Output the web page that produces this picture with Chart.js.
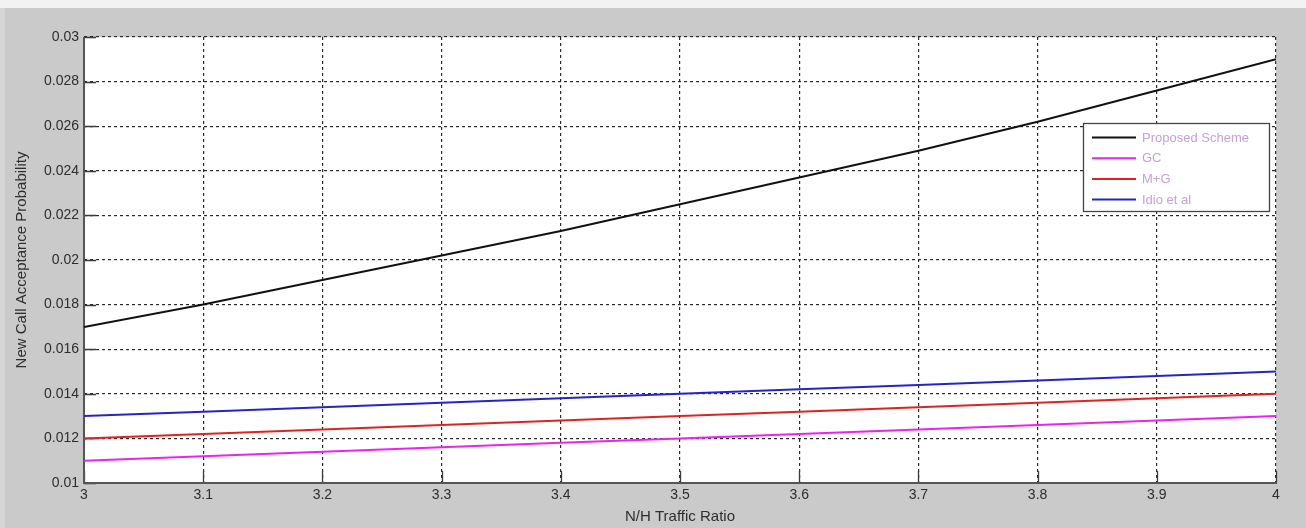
<!DOCTYPE html>
<html lang="en">
<head>
  <meta charset="UTF-8">
  <title>New Call Acceptance Probability</title>
  <script src="https://cdn.jsdelivr.net/npm/chart.js"></script>
  <style>
    html, body { margin: 0; padding: 0; background: #fff; }
    #wrap { width: 1306px; height: 528px; }
  </style>
</head>
<body>
<div id="wrap"><canvas id="chart" width="1306" height="528"></canvas></div>
<script>
  // values, x = 3.0 .. 4.0 in steps of 0.1
  const ratios = [3.0, 3.1, 3.2, 3.3, 3.4, 3.5, 3.6, 3.7, 3.8, 3.9, 4.0];
  const proposed = [0.0170, 0.0180, 0.0191, 0.0202, 0.0213, 0.0225, 0.0237, 0.0249, 0.0262, 0.0276, 0.0290];
  const gc = [0.0110, 0.0112, 0.0114, 0.0116, 0.0118, 0.0120, 0.0122, 0.0124, 0.0126, 0.0128, 0.0130];
  const mg = [0.0120, 0.0122, 0.0124, 0.0126, 0.0128, 0.0130, 0.0132, 0.0134, 0.0136, 0.0138, 0.0140];
  const idio = [0.0130, 0.0132, 0.0134, 0.0136, 0.0138, 0.0140, 0.0142, 0.0144, 0.0146, 0.0148, 0.0150];

  const xTickLabels = ['3', '3.1', '3.2', '3.3', '3.4', '3.5', '3.6', '3.7', '3.8', '3.9', '4'];
  const yTickLabels = ['0.01', '0.012', '0.014', '0.016', '0.018', '0.02', '0.022', '0.024', '0.026', '0.028', '0.03'];

  const seriesNames = ['Proposed Scheme', 'GC', 'M+G', 'Idio et al'];
  const seriesColors = ['#111111', '#ee22ee', '#e02222', '#2424cc'];
  const seriesValues = [proposed, gc, mg, idio];

  const FONT = 'Arial, "Liberation Sans", sans-serif';

  function toPoints(vals) {
    return ratios.map((x, i) => ({ x: x, y: vals[i] }));
  }

  // grey figure background + white axes area
  const backdrop = {
    id: 'backdrop',
    beforeDraw(chart) {
      const ctx = chart.ctx;
      const a = chart.chartArea;
      ctx.save();
      ctx.fillStyle = '#f2f2f2';
      ctx.fillRect(0, 0, chart.width, chart.height);
      ctx.fillStyle = '#d6d6d6';
      ctx.fillRect(0, 8, 5, chart.height - 8);
      ctx.fillStyle = '#cacaca';
      ctx.fillRect(5, 8, chart.width - 5, chart.height - 8);
      ctx.fillStyle = '#ffffff';
      ctx.fillRect(a.left, a.top, a.right - a.left, a.bottom - a.top);
      ctx.restore();
    }
  };

  // solid left/bottom axis lines and matlab style ticks pointing inwards
  const innerTicks = {
    id: 'innerTicks',
    beforeDatasetsDraw(chart) {
      const ctx = chart.ctx;
      const a = chart.chartArea;
      const xs = chart.scales.x, ys = chart.scales.y;
      const len = 12;
      ctx.save();
      ctx.setLineDash([]);
      ctx.strokeStyle = '#3a3a3a';
      ctx.lineWidth = 1.3;
      ctx.beginPath();
      xs.ticks.forEach(t => {
        const px = Math.round(xs.getPixelForValue(t.value)) + 0.5;
        ctx.moveTo(px, a.bottom);
        ctx.lineTo(px, a.bottom - len);
      });
      ys.ticks.forEach(t => {
        const py = Math.round(ys.getPixelForValue(t.value)) + 0.5;
        ctx.moveTo(a.left, py);
        ctx.lineTo(a.left + len, py);
      });
      ctx.stroke();
      ctx.strokeStyle = '#555';
      ctx.lineWidth = 2;
      ctx.beginPath();
      ctx.moveTo(a.left, a.top);
      ctx.lineTo(a.left, a.bottom);
      ctx.lineTo(a.right + 1, a.bottom);
      ctx.stroke();
      ctx.restore();
    }
  };

  // legend box inside the axes, upper right
  const boxLegend = {
    id: 'boxLegend',
    afterDraw(chart) {
      const ctx = chart.ctx;
      const left = 1083, top = 123, right = 1269, bottom = 211;
      const rowH = 20.7, firstRow = 137.5;
      ctx.save();
      ctx.setLineDash([]);
      ctx.fillStyle = '#ffffff';
      ctx.fillRect(left, top, right - left, bottom - top);
      ctx.strokeStyle = '#444';
      ctx.lineWidth = 1.3;
      ctx.strokeRect(left + 0.5, top + 0.5, right - left, bottom - top);
      ctx.font = '13px ' + FONT;
      ctx.textBaseline = 'middle';
      chart.data.datasets.forEach((ds, i) => {
        const y = firstRow + i * rowH;
        ctx.strokeStyle = ds.borderColor;
        ctx.lineWidth = 2;
        ctx.beginPath();
        ctx.moveTo(1092, y);
        ctx.lineTo(1136, y);
        ctx.stroke();
        ctx.fillStyle = '#c6a2dc';
        ctx.fillText(ds.label, 1142, y + 0.5);
      });
      ctx.restore();
    }
  };

  const datasets = seriesNames.map((name, i) => ({
    label: name,
    data: toPoints(seriesValues[i]),
    borderColor: seriesColors[i],
    backgroundColor: seriesColors[i],
    borderWidth: 2,
    pointRadius: 0,
    tension: 0,
    fill: false
  }));

  new Chart(document.getElementById('chart').getContext('2d'), {
    type: 'line',
    data: { datasets },
    plugins: [backdrop, innerTicks, boxLegend],
    options: {
      responsive: false,
      animation: false,
      layout: { padding: { left: 0, top: 37, right: 30, bottom: 0 } },
      plugins: {
        legend: { display: false },
        tooltip: { enabled: false }
      },
      scales: {
        x: {
          type: 'linear',
          min: 3,
          max: 4,
          afterFit(scale) { scale.height = 45; },
          ticks: {
            stepSize: 0.1,
            padding: 4,
            maxRotation: 0,
            autoSkip: false,
            color: '#2e2e2e',
            font: { family: FONT, size: 14 },
            callback: (v, i) => xTickLabels[i]
          },
          grid: {
            color: '#2a2a2a',
            lineWidth: 1.2,
            drawTicks: false
          },
          border: { display: false, dash: [3, 3] },
          title: {
            display: true,
            text: 'N/H Traffic Ratio',
            color: '#2e2e2e',
            font: { family: FONT, size: 15 },
            padding: { top: 0, bottom: 2 }
          }
        },
        y: {
          min: 0.01,
          max: 0.03,
          afterFit(scale) { scale.width = 84; },
          ticks: {
            stepSize: 0.002,
            padding: 5,
            autoSkip: false,
            color: '#2e2e2e',
            font: { family: FONT, size: 14 },
            callback: (v, i) => yTickLabels[i]
          },
          grid: {
            color: '#2a2a2a',
            lineWidth: 1.2,
            drawTicks: false
          },
          border: { display: false, dash: [3, 3] },
          title: {
            display: true,
            text: 'New Call Acceptance Probability',
            color: '#2e2e2e',
            font: { family: FONT, size: 15 },
            padding: { top: 13, bottom: 0 }
          }
        }
      }
    }
  });
</script>
</body>
</html>
